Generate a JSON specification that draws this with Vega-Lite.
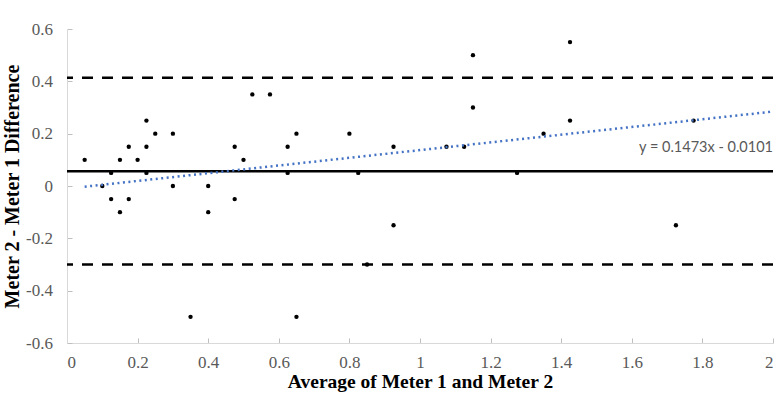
{
  "$schema": "https://vega.github.io/schema/vega-lite/v6.json",
  "width": 706,
  "height": 314,
  "autosize": "none",
  "padding": {"left": 67, "top": 29, "right": 5, "bottom": 59},
  "background": "white",
  "config": {
    "view": {"stroke": null},
    "axis": {
      "grid": false,
      "domainColor": "#d9d9d9",
      "domainWidth": 1,
      "tickColor": "#bfbfbf",
      "tickSize": -5,
      "titleFont": "Liberation Serif",
      "titleFontWeight": "bold",
      "titleColor": "#000000"
    }
  },
  "datasets": {
    "points": [
      {"avg": 0.05, "diff": 0.1},
      {"avg": 0.1, "diff": 0.0},
      {"avg": 0.125, "diff": 0.05},
      {"avg": 0.125, "diff": -0.05},
      {"avg": 0.15, "diff": 0.1},
      {"avg": 0.15, "diff": -0.1},
      {"avg": 0.175, "diff": 0.15},
      {"avg": 0.175, "diff": -0.05},
      {"avg": 0.2, "diff": 0.1},
      {"avg": 0.225, "diff": 0.25},
      {"avg": 0.225, "diff": 0.15},
      {"avg": 0.225, "diff": 0.05},
      {"avg": 0.25, "diff": 0.2},
      {"avg": 0.3, "diff": 0.2},
      {"avg": 0.3, "diff": 0.0},
      {"avg": 0.35, "diff": -0.5},
      {"avg": 0.4, "diff": 0.0},
      {"avg": 0.4, "diff": -0.1},
      {"avg": 0.475, "diff": 0.15},
      {"avg": 0.475, "diff": -0.05},
      {"avg": 0.5, "diff": 0.1},
      {"avg": 0.525, "diff": 0.35},
      {"avg": 0.575, "diff": 0.35},
      {"avg": 0.625, "diff": 0.15},
      {"avg": 0.625, "diff": 0.05},
      {"avg": 0.65, "diff": 0.2},
      {"avg": 0.65, "diff": -0.5},
      {"avg": 0.8, "diff": 0.2},
      {"avg": 0.825, "diff": 0.05},
      {"avg": 0.85, "diff": -0.3},
      {"avg": 0.925, "diff": 0.15},
      {"avg": 0.925, "diff": -0.15},
      {"avg": 1.075, "diff": 0.15},
      {"avg": 1.125, "diff": 0.15},
      {"avg": 1.15, "diff": 0.5},
      {"avg": 1.15, "diff": 0.3},
      {"avg": 1.275, "diff": 0.05},
      {"avg": 1.35, "diff": 0.2},
      {"avg": 1.425, "diff": 0.55},
      {"avg": 1.425, "diff": 0.25},
      {"avg": 1.725, "diff": -0.15},
      {"avg": 1.775, "diff": 0.25}
    ],
    "mean": [{"value": 0.056}],
    "limits": [{"value": 0.414}, {"value": -0.3}],
    "trend": [{"avg": 0.05, "diff": -0.0027}, {"avg": 2.0, "diff": 0.2845}],
    "label": [{"avg": 2.0, "diff": 0.146, "text": "y = 0.1473x - 0.0101"}]
  },
  "layer": [
    {
      "data": {"name": "points"},
      "mark": {"type": "point", "filled": true, "color": "#000000", "size": 19, "opacity": 1},
      "encoding": {
        "x": {
          "field": "avg", "type": "quantitative",
          "scale": {"domain": [0, 2], "nice": false, "zero": false},
          "axis": {
            "values": [0, 0.2, 0.4, 0.6, 0.8, 1, 1.2, 1.4, 1.6, 1.8, 2],
            "labelExpr": "'' + datum.value",
            "labelFont": "Liberation Serif",
            "labelFontSize": 17,
            "labelColor": "#595959",
            "labelPadding": 16,
            "title": "Average of Meter 1 and Meter 2",
            "titleFontSize": 19.5,
            "titlePadding": 2
          }
        },
        "y": {
          "field": "diff", "type": "quantitative",
          "scale": {"domain": [-0.6, 0.6], "nice": false, "zero": false},
          "axis": {
            "values": [-0.6, -0.4, -0.2, 0, 0.2, 0.4, 0.6],
            "labelExpr": "'' + datum.value",
            "labelFont": "Liberation Serif",
            "labelFontSize": 17,
            "labelColor": "#595959",
            "labelPadding": 19.5,
            "title": "Meter 2 - Meter 1 Difference",
            "titleFontSize": 20,
            "titlePadding": 3
          }
        }
      }
    },
    {
      "data": {"name": "limits"},
      "mark": {"type": "rule", "color": "#000000", "strokeWidth": 2.5, "strokeDash": [11, 9]},
      "encoding": {
        "y": {"field": "value", "type": "quantitative"}
      }
    },
    {
      "data": {"name": "mean"},
      "mark": {"type": "rule", "color": "#000000", "strokeWidth": 2.5},
      "encoding": {
        "y": {"field": "value", "type": "quantitative"}
      }
    },
    {
      "data": {"name": "trend"},
      "mark": {"type": "line", "color": "#4472C4", "strokeWidth": 2.5, "strokeDash": [2, 3.5], "strokeCap": "butt"},
      "encoding": {
        "x": {"field": "avg", "type": "quantitative"},
        "y": {"field": "diff", "type": "quantitative"}
      }
    },
    {
      "data": {"name": "label"},
      "mark": {"type": "text", "align": "right", "baseline": "middle", "font": "Lato", "fontSize": 14.5, "color": "#595959"},
      "encoding": {
        "x": {"field": "avg", "type": "quantitative"},
        "y": {"field": "diff", "type": "quantitative"},
        "text": {"field": "text"}
      }
    }
  ]
}
